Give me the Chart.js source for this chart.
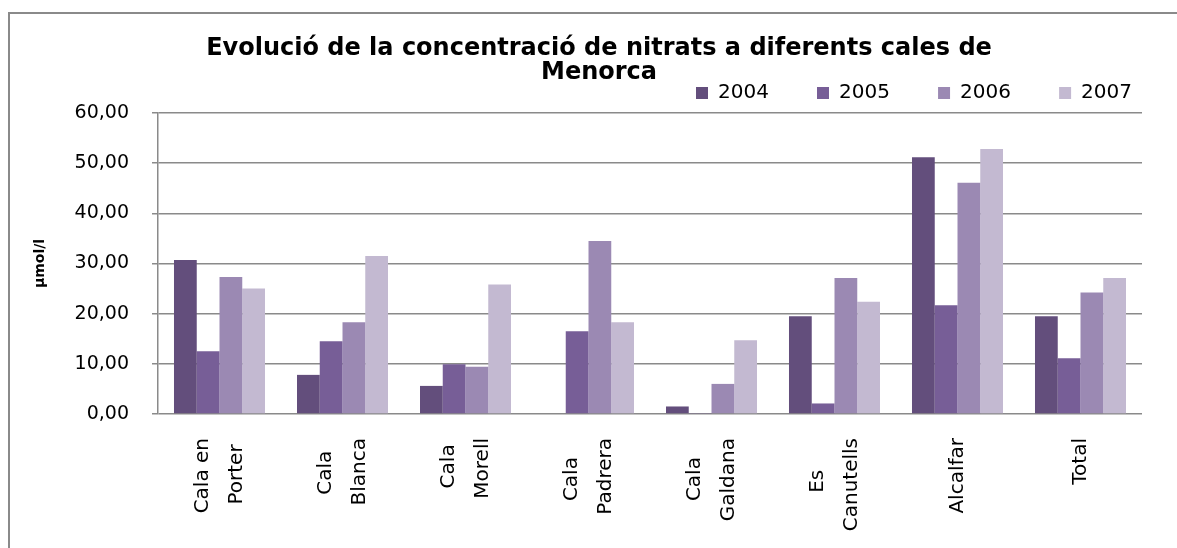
<!DOCTYPE html>
<html lang="ca">
<head>
    <meta charset="UTF-8">
    <title>Nitrats Menorca</title>
    <style>
        body {
            margin: 0;
            padding: 0;
            background: white;
            overflow: hidden;
        }
        .frame {
            position: absolute;
            left: 8px;
            top: 12px;
            width: 1200px;
            height: 600px;
            border-top: 2px solid #8a8a8a;
            border-left: 2px solid #8a8a8a;
        }
        canvas {
            position: absolute;
            left: 0;
            top: 0;
        }
    </style>
    <script src="https://cdn.jsdelivr.net/npm/chart.js"></script>
</head>
<body>
    <div class="frame"></div>
    <canvas id="nitratChart" width="1177" height="548"></canvas>

    <script>
        // label lines, short lines padded so both lines sit centred
        const categories = [
            ['Cala en', 'Porter\u00a0'],
            ['Cala\u00a0\u00a0', 'Blanca'],
            ['Cala\u00a0', 'Morell'],
            ['Cala\u00a0\u00a0\u00a0', 'Padrera'],
            ['Cala\u00a0\u00a0\u00a0', 'Galdana'],
            ['Es\u00a0\u00a0\u00a0\u00a0\u00a0', 'Canutells'],
            'Alcalfar',
            'Total'
        ];
        const years = ['2004', '2005', '2006', '2007'];
        const v2004 = [30.7, 7.8, 5.6, 0, 1.5, 19.5, 51.2, 19.5];
        const v2005 = [12.5, 14.5, 9.9, 16.5, 0.2, 2.1, 21.7, 11.1];
        const v2006 = [27.3, 18.3, 9.4, 34.5, 6.0, 27.1, 46.1, 24.2];
        const v2007 = [25.0, 31.5, 25.8, 18.3, 14.7, 22.4, 52.8, 27.1];
        const colors = ['#634e7c', '#775e97', '#9b89b3', '#c3b9d1'];
        const yTicks = [0, 10, 20, 30, 40, 50, 60];

        const series = [v2004, v2005, v2006, v2007];
        const gridGrey = '#8a8a8a';
        const labelLine = 34;

        Chart.defaults.font.family = 'DejaVu Sans';
        Chart.defaults.color = '#000';

        const ctx = document.getElementById('nitratChart').getContext('2d');
        new Chart(ctx, {
            type: 'bar',
            data: {
                labels: categories,
                datasets: years.map((y, i) => ({
                    label: y,
                    data: series[i],
                    backgroundColor: colors[i],
                    borderWidth: 0,
                    categoryPercentage: 0.74,
                    barPercentage: 1.0
                }))
            },
            options: {
                responsive: false,
                animation: false,
                devicePixelRatio: 1,
                layout: {
                    padding: { left: 56, right: 35, top: 0, bottom: 0 }
                },
                plugins: {
                    title: {
                        display: true,
                        text: ['Evolució de la concentració de nitrats a diferents cales de', 'Menorca'],
                        font: { size: 24, weight: 'bold', lineHeight: 1 },
                        color: '#000',
                        padding: { top: 37, bottom: -12 }
                    },
                    legend: {
                        position: 'top',
                        align: 'end',
                        labels: {
                            boxWidth: 12,
                            boxHeight: 12,
                            padding: 10,
                            font: { size: 20 },
                            color: '#000',
                            generateLabels(chart) {
                                const items = Chart.defaults.plugins.legend.labels.generateLabels(chart);
                                items.forEach((it, i) => {
                                    if (i < items.length - 1) it.text += '\u00a0'.repeat(6);
                                });
                                return items;
                            }
                        }
                    },
                    tooltip: { enabled: false }
                },
                scales: {
                    x: {
                        grid: { display: false },
                        border: { display: false },
                        ticks: {
                            minRotation: 90,
                            maxRotation: 90,
                            autoSkip: false,
                            padding: 16,
                            labelOffset: -labelLine / 2,
                            font: { size: 20, lineHeight: labelLine / 20 },
                            color: '#000',
                            showLabelBackdrop: c => !Array.isArray(categories[c.index]),
                            backdropColor: 'rgba(0,0,0,0)',
                            backdropPadding: 0
                        },
                        afterFit: s => { s.height = 134; }
                    },
                    y: {
                        min: 0,
                        max: 60,
                        afterBuildTicks: s => { s.ticks = yTicks.map(v => ({ value: v })); },
                        afterFit: s => { s.width = 102; },
                        grid: {
                            color: gridGrey,
                            lineWidth: 1.5,
                            tickLength: 6
                        },
                        border: { display: true, color: gridGrey, width: 1.5 },
                        ticks: {
                            padding: 23,
                            font: { size: 19 },
                            color: '#000',
                            callback: v => v.toFixed(2).replace('.', ',')
                        },
                        title: {
                            display: true,
                            text: 'µmol/l',
                            font: { size: 14, weight: 'bold' },
                            color: '#000',
                            padding: { top: -24.4, bottom: 0 }
                        }
                    }
                }
            }
        });
    </script>
</body>
</html>
